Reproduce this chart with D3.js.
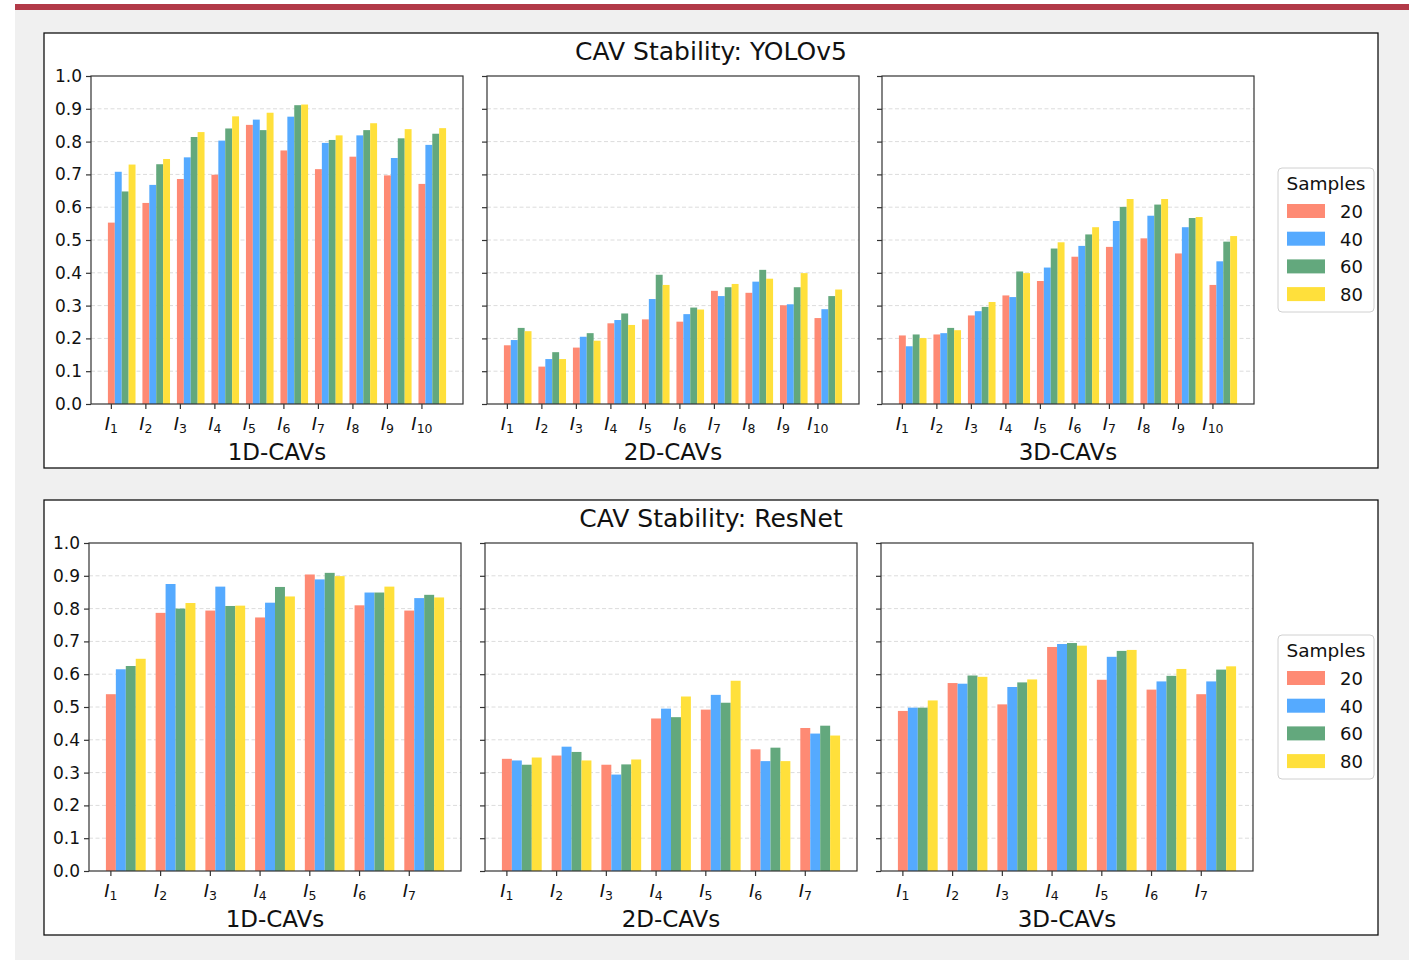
<!DOCTYPE html>
<html>
<head>
<meta charset="utf-8">
<script src="https://cdn.jsdelivr.net/npm/d3@7"></script>
<style>
  body { margin: 0; background: #fff; }
  text { font-family: "DejaVu Sans", sans-serif; fill: #111; }
</style>
</head>
<body>
<script>
var width = 1409, height = 960;

// sample sizes (legend)
var samples = ["20", "40", "60", "80"];
var colors = ["#fe8a74", "#55aaff", "#63a87d", "#ffe03b"];

var yTicks = [0, 0.1, 0.2, 0.3, 0.4, 0.5, 0.6, 0.7, 0.8, 0.9, 1.0];
var panelLabels = ["1D-CAVs", "2D-CAVs", "3D-CAVs"];

// YOLOv5 layers I1..I10, one row per sample size (20, 40, 60, 80)
var yoloLayers = ["1", "2", "3", "4", "5", "6", "7", "8", "9", "10"];
var yolo1D = [
  [0.553, 0.613, 0.686, 0.699, 0.851, 0.773, 0.716, 0.754, 0.697, 0.671],
  [0.708, 0.668, 0.752, 0.803, 0.867, 0.876, 0.796, 0.819, 0.750, 0.790],
  [0.648, 0.731, 0.814, 0.840, 0.835, 0.911, 0.805, 0.835, 0.810, 0.824],
  [0.730, 0.747, 0.829, 0.877, 0.888, 0.913, 0.819, 0.856, 0.838, 0.841]
];
var yolo2D = [
  [0.179, 0.114, 0.172, 0.246, 0.258, 0.251, 0.345, 0.339, 0.301, 0.262],
  [0.195, 0.137, 0.205, 0.256, 0.320, 0.274, 0.329, 0.373, 0.304, 0.289],
  [0.232, 0.158, 0.216, 0.276, 0.394, 0.294, 0.356, 0.409, 0.356, 0.329],
  [0.222, 0.137, 0.193, 0.241, 0.363, 0.288, 0.366, 0.382, 0.399, 0.349]
];
var yolo3D = [
  [0.209, 0.212, 0.270, 0.331, 0.375, 0.449, 0.479, 0.505, 0.459, 0.363],
  [0.176, 0.216, 0.283, 0.326, 0.416, 0.482, 0.558, 0.574, 0.539, 0.435],
  [0.212, 0.232, 0.296, 0.404, 0.474, 0.517, 0.601, 0.608, 0.567, 0.495],
  [0.201, 0.225, 0.311, 0.399, 0.493, 0.539, 0.625, 0.625, 0.570, 0.512]
];

// ResNet layers I1..I7
var resLayers = ["1", "2", "3", "4", "5", "6", "7"];
var res1D = [
  [0.539, 0.787, 0.794, 0.773, 0.904, 0.810, 0.794],
  [0.615, 0.875, 0.867, 0.818, 0.889, 0.849, 0.832],
  [0.625, 0.800, 0.808, 0.866, 0.909, 0.849, 0.842],
  [0.647, 0.817, 0.809, 0.837, 0.899, 0.867, 0.834]
];
var res2D = [
  [0.342, 0.352, 0.324, 0.465, 0.492, 0.371, 0.436],
  [0.337, 0.379, 0.294, 0.495, 0.537, 0.335, 0.419],
  [0.324, 0.363, 0.325, 0.469, 0.513, 0.376, 0.443],
  [0.346, 0.337, 0.340, 0.532, 0.580, 0.335, 0.413]
];
var res3D = [
  [0.488, 0.573, 0.508, 0.683, 0.583, 0.553, 0.539],
  [0.498, 0.571, 0.561, 0.692, 0.653, 0.578, 0.578],
  [0.498, 0.596, 0.575, 0.695, 0.671, 0.595, 0.614],
  [0.520, 0.592, 0.584, 0.687, 0.674, 0.616, 0.624]
];

var svg = d3.select("body").append("svg")
    .attr("width", width)
    .attr("height", height);

// page background
svg.append("rect").attr("x", 15).attr("y", 10).attr("width", width - 15).attr("height", height - 10).attr("fill", "#f0f0f0");
svg.append("rect").attr("x", 15).attr("y", 4).attr("width", width - 15).attr("height", 6).attr("fill", "#b23a48");

var barW = 0.2;

function drawFigure(top, title, layers, sets, axLefts) {
  var g = svg.append("g").attr("transform", "translate(0," + top + ")");
  g.append("rect").attr("x", 44).attr("y", 0).attr("width", 1334).attr("height", 435)
    .attr("fill", "#fff").attr("stroke", "#111").attr("stroke-width", 1.3);
  g.append("text").attr("x", 711).attr("y", 27).attr("text-anchor", "middle")
    .style("font-size", "25px").text(title);

  var axTop = 43, axH = 328, axW = 372;
  var n = layers.length;
  var pad = (n - 0.2) * 0.05;
  var x = d3.scaleLinear().domain([-0.1 - pad, n - 1 + 0.7 + pad]).range([0, axW]);
  var y = d3.scaleLinear().domain([0, 1]).range([axH, 0]);

  sets.forEach(function(data, p) {
    var ax = g.append("g").attr("transform", "translate(" + axLefts[p] + "," + axTop + ")");

    // grid
    ax.selectAll(".grid").data(yTicks.slice(1, -1)).enter().append("line")
      .attr("x1", 0).attr("x2", axW)
      .attr("y1", function(d) { return y(d); }).attr("y2", function(d) { return y(d); })
      .attr("stroke", "#dcdcdc").attr("stroke-width", 1).attr("stroke-dasharray", "4,2.5");

    // bars
    data.forEach(function(series, s) {
      ax.selectAll(".bar" + s).data(series).enter().append("rect")
        .attr("x", function(d, i) { return x(i + s * barW - barW / 2); })
        .attr("width", x(barW) - x(0))
        .attr("y", function(d) { return y(d); })
        .attr("height", function(d) { return axH - y(d); })
        .attr("fill", colors[s]);
    });

    // y axis
    var yAxis = d3.axisLeft(y).tickValues(yTicks).tickSize(5).tickPadding(4)
      .tickFormat(p === 0 ? d3.format(".1f") : "");
    var ya = ax.append("g").call(yAxis);
    ya.select(".domain").remove();
    ya.selectAll("line").attr("stroke", "#333").attr("stroke-width", 1.2);
    ya.selectAll("text").style("font-size", "17px").attr("fill", "#111").attr("font-family", "DejaVu Sans");

    // x axis
    var xa = ax.append("g").attr("transform", "translate(0," + axH + ")");
    xa.selectAll("line").data(layers).enter().append("line")
      .attr("x1", function(d, i) { return x(i); }).attr("x2", function(d, i) { return x(i); })
      .attr("y1", 0).attr("y2", 5).attr("stroke", "#333").attr("stroke-width", 1.2);
    var lbl = xa.selectAll("text").data(layers).enter().append("text")
      .attr("x", function(d, i) { return x(i); }).attr("y", 26)
      .attr("text-anchor", "middle");
    lbl.append("tspan").style("font-size", "18px").style("font-style", "italic").text("I");
    lbl.append("tspan").attr("dy", 3).style("font-size", "12.5px").text(function(d) { return d; });

    ax.append("text").attr("x", axW / 2).attr("y", axH + 56).attr("text-anchor", "middle")
      .style("font-size", "23px").text(panelLabels[p]);

    // frame
    ax.append("rect").attr("width", axW).attr("height", axH)
      .attr("fill", "none").attr("stroke", "#333").attr("stroke-width", 1.2);
  });

  // legend
  var lg = g.append("g").attr("transform", "translate(1278,135)");
  lg.append("rect").attr("width", 96).attr("height", 144).attr("rx", 4)
    .attr("fill", "#fff").attr("stroke", "#d0d0d0").attr("stroke-width", 1);
  lg.append("text").attr("x", 48).attr("y", 22).attr("text-anchor", "middle")
    .style("font-size", "18.5px").text("Samples");
  samples.forEach(function(sz, i) {
    lg.append("rect").attr("x", 9).attr("y", 36 + i * 27.7).attr("width", 38).attr("height", 14)
      .attr("fill", colors[i]);
    lg.append("text").attr("x", 62).attr("y", 50 + i * 27.7)
      .style("font-size", "18px").text(sz);
  });
}

drawFigure(33, "CAV Stability: YOLOv5", yoloLayers, [yolo1D, yolo2D, yolo3D], [91, 487, 882]);
drawFigure(500, "CAV Stability: ResNet", resLayers, [res1D, res2D, res3D], [89, 485, 881]);
</script>
</body>
</html>
